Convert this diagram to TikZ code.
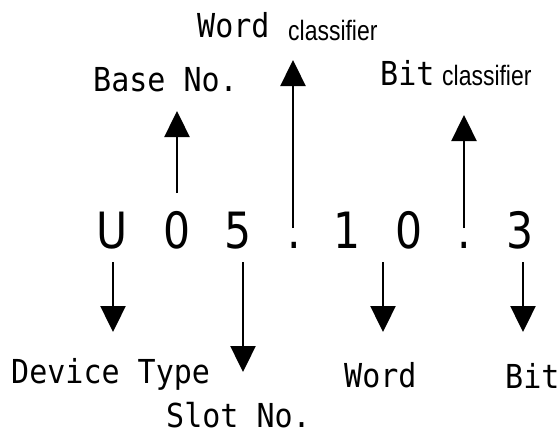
\documentclass[tikz,border=0pt]{standalone}
\usepackage{fontspec}
\setmonofont{DejaVu Sans Mono}
\newfontfamily\labfont[FakeStretch=0.91]{DejaVu Sans Mono}
\newfontfamily\chrfont[FakeStretch=0.85]{DejaVu Sans}
\newfontfamily\clsfont[FakeStretch=0.82]{Liberation Sans}
\usepackage{tikz}
\usetikzlibrary{arrows.meta}

\begin{document}
\begin{tikzpicture}[x=1pt, y=-1pt,
  chr/.style={inner sep=0pt, anchor=base, font=\chrfont\fontsize{50}{56}\selectfont},
  lab/.style={inner sep=0pt, anchor=base west, font=\labfont\fontsize{33}{38}\selectfont},
  cls/.style={inner sep=0pt, anchor=base west, font=\clsfont\fontsize{28}{32}\selectfont},
  arr/.style={line width=2.4pt, -{Triangle[length=26pt,width=25pt]}}]
    \useasboundingbox (0,0) rectangle (560,440);
    \foreach \x/\ch/\nm in {112/U/cU,177/0/cBase,238/5/cSlot,294/./cDotW,347/1/cWa,409/0/cWb,464/./cDotB,520/3/cBit}{
      \node[chr] (\nm) at (\x,248) {\ch};
    }
    % labels above
    \node[lab] (wordTop) at (197,37) {Word};
    \node[cls] (wordCls) at (288,40) {classifier};
    \node[lab] (baseLab) at (93,91) {Base No.};
    \node[lab] (bitTop) at (380,85) {Bit};
    \node[cls] (bitCls) at (442,85) {classifier};
    % labels below
    \node[lab] (devLab) at (11,383) {Device Type};
    \node[lab] (slotLab) at (166,427) {Slot No.};
    \node[lab] (wordLab) at (344,387) {Word};
    \node[lab] (bitLab) at (505,388) {Bit};
    \foreach \nm/\x/\ya/\yb in {aU/113/262/332,aSlot/243/262/372,aWord/383/262/332,aBit/523/262/332,aBase/177/193/111,aWordC/293/228/60,aBitC/464/228/115}{
      \coordinate (\nm s) at (\x,\ya);
      \coordinate (\nm e) at (\x,\yb);
      \draw[arr] (\nm s) -- (\nm e);
    }
\end{tikzpicture}
\end{document}
